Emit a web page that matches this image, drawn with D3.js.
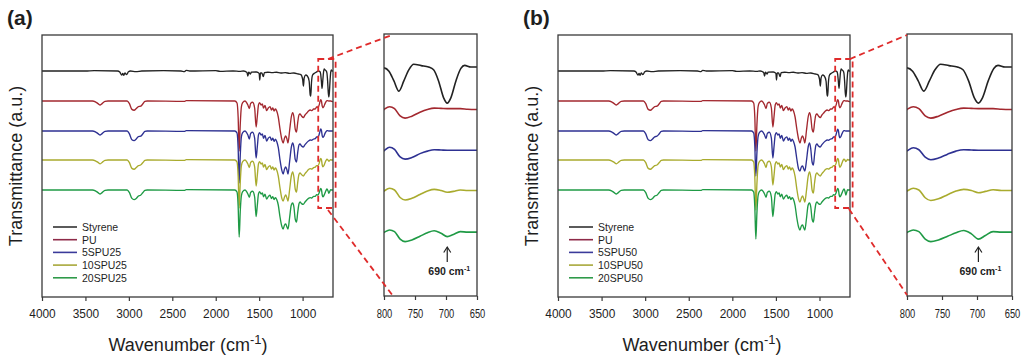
<!DOCTYPE html>
<html>
<head>
<meta charset="utf-8">
<script src="https://cdn.jsdelivr.net/npm/d3@7"></script>
<style>
  body { margin: 0; background: #fff; }
  svg { display: block; }
  text { font-family: "Liberation Sans", Arial, sans-serif; fill: #1e1e1e; }
</style>
</head>
<body>
<svg id="chart" width="1024" height="364"></svg>
<script>
"use strict";

// Styrene spectrum (relative transmittance, a.u.)
const styreneWn = [4000,3500,3400,3130,3105,3082,3070,3060,3045,3026,3005,2980,2920,2850,2600,2400,2360,2340,2300,2000,
  1950,1800,1720,1680,1640,1630,1620,1600,1590,1530,1500,1493,1485,1470,1452,1440,1400,1350,1300,1250,
  1200,1150,1100,1050,1020,1000,990,982,965,945,925,912,906,898,885,860,840,820,800,792,
  784,776,768,760,752,740,728,720,712,704,698,692,684,676,670,660,650];
const styreneT = [0,0,0.2,0,-0.5,-2,-1.2,-2.2,-1,-1.8,-0.4,0,-0.3,0,0.2,0,-0.3,0.3,0,0.2,
  -0.2,0,-0.2,0,-0.8,-2.5,-0.6,-1.5,-0.6,-0.5,-1.2,-4.5,-1,-1,-2.8,-0.8,-0.6,-0.8,-0.6,-1,
  -0.8,-1.2,-1,-1.5,-1.8,-4,-7.5,-3.5,-2,-2.5,-5,-12,-12.5,-6,-2,-1,-0.5,0,-0.3,-1.5,
  -5,-8.7,-5,-1,1,0.5,0,-1,-5,-11,-13,-11,-5,-0.5,0.6,0,0];

// PU based samples share one wavenumber grid
const polyWn = [4000,3420,3385,3355,3330,3305,3275,3240,
  3020,2995,2965,2940,2915,2890,2865,2840,2815,2790,
  2360,2340,
  1780,1755,1742,1730,1718,1705,1690,1663,
  1645,1630,1613,1598,1575,1552,1535,1522,1508,1495,
  1478,1463,1450,1433,1414,1395,1375,1358,1343,1328,1313,1298,
  1280,1260,1240,1224,1208,1194,1180,1168,1150,1130,
  1114,1100,1085,1070,1057,1042,1030,1012,992,972,
  952,932,912,893,873,855,838,822,808,800,
  791,783,774,766,755,742,730,719,708,698,688,677,665,650];

const puT = [0,0,-0.4,-1.3,-2,-1.2,-0.2,0,
  0,-1.2,-4.2,-4.6,-3.8,-2.8,-2.6,-1.5,-0.2,0,
  -0.2,0.2,
  0,-1,-8,-25,-12,-3,-0.8,0,
  -0.8,-2,-3.8,-1.2,-0.6,-3.5,-13,-8,-2,-0.8,
  -2,-1.5,-3.5,-2.2,-4.8,-3.5,-2.8,-4.5,-3.5,-5,-4,-5,
  -8,-14,-19,-21,-18.5,-17.5,-19,-21,-15,-8,
  -5.8,-8,-14,-15.5,-11,-7,-6.5,-7.5,-8.3,-7,
  -6,-5,-4.5,-4.8,-4,-4,-3,-3.2,-1.8,-0.3,
  0.7,0,-2.6,-3.4,-2.7,-1.3,-0.3,0.2,0.1,0,0,0,-0.2,-0.3];

const spu5_25T = [0,0,-0.4,-1.3,-2,-1.2,-0.2,0,
  0,-1.3,-4.4,-4.8,-4,-2.8,-2.6,-1.5,-0.2,0,
  -0.2,0.2,
  0,-1,-8.5,-26,-12.5,-3,-0.8,0,
  -0.8,-2,-4,-1.2,-0.6,-3.6,-13.5,-8.2,-2,-0.8,
  -2,-1.5,-3.6,-2.2,-5,-3.6,-2.9,-4.6,-3.6,-5.2,-4.1,-5.2,
  -8.2,-14.5,-19.5,-21.5,-19,-18,-19.5,-21.5,-15.5,-8.2,
  -6,-8.2,-14.2,-15.5,-11,-7,-6.5,-7.5,-8,-6.8,
  -5.8,-5,-4.5,-4.6,-4,-3.8,-3,-3,-1.5,-0.2,
  1.1,0.3,-2.4,-3.2,-2.6,-1.2,-0.3,0.2,0.1,0,0,0,0,0];

const spu10_25T = [0,0,-0.4,-1.2,-1.9,-1.1,-0.2,0,
  0,-1.2,-4.2,-4.6,-3.8,-2.8,-2.5,-1.4,-0.2,0,
  -0.2,0.2,
  0,-1,-8,-24,-11.5,-3,-0.8,0,
  -0.8,-2,-3.8,-1.2,-0.6,-3.4,-13,-8,-2,-0.8,
  -2,-1.5,-3.5,-2.2,-4.8,-3.5,-2.8,-4.5,-3.5,-5,-4,-5,
  -8,-14,-19,-20.5,-18.5,-17.5,-19,-20.5,-15,-8,
  -6,-8.5,-14.5,-16,-11.5,-7.2,-6.5,-7.3,-8,-6.8,
  -5.8,-4.8,-4.3,-4.5,-3.8,-3.6,-2.8,-2.8,-1.5,-0.2,
  0.8,0.2,-2.5,-3.4,-2.8,-1.4,-0.2,0.4,0,-0.6,-0.3,0.2,0,0];

const spu20_25T = [0,0,-0.4,-1.3,-2,-1.2,-0.2,0,
  0,-1.2,-4.2,-4.8,-4.2,-3,-2.6,-1.4,-0.2,0,
  -0.2,0.2,
  0,-1,-8,-23.5,-11,-3,-0.8,0,
  -0.8,-2,-3.6,-1.2,-0.6,-3.5,-13.3,-8,-2,-0.8,
  -2,-1.5,-3.4,-2.1,-4.5,-3.3,-2.6,-4.3,-3.3,-4.8,-3.8,-4.8,
  -7.5,-13.5,-18,-19.5,-17.5,-17,-18.5,-19.5,-14,-7.5,
  -6.5,-8.5,-14.5,-16,-11.5,-7,-6,-6.8,-7.2,-6,
  -5,-4.2,-3.8,-4,-3.2,-3.2,-2.3,-2.5,-1.2,-0.1,
  0.8,0.2,-2.5,-3.4,-2.8,-1.5,-0.2,0.5,-0.4,-1.6,-0.8,0.2,0,0];

const spu5_50T = [0,0,-0.4,-1.3,-2,-1.2,-0.2,0,
  0,-1.3,-4.4,-4.8,-4,-2.9,-2.6,-1.5,-0.2,0,
  -0.2,0.2,
  0,-1,-7.5,-22.5,-11,-3,-0.8,0,
  -0.8,-2,-3.8,-1.2,-0.6,-3.6,-13.5,-8,-2,-0.8,
  -2,-1.5,-3.6,-2.2,-5,-3.6,-2.9,-4.6,-3.6,-5.2,-4.1,-5.2,
  -8,-14,-19,-20,-18,-17.5,-19,-20,-15,-8,
  -6,-9,-15.5,-17,-12,-7.2,-6.5,-7.5,-8,-6.8,
  -5.8,-5,-4.5,-4.6,-4,-3.8,-3,-3,-1.5,-0.2,
  0.9,0.2,-2.5,-3.4,-2.8,-1.4,-0.3,0.2,0.1,0,0,0,0,0];

const spu10_50T = [0,0,-0.4,-1.2,-1.9,-1.1,-0.2,0,
  0,-1.2,-4.2,-4.6,-3.8,-2.8,-2.5,-1.4,-0.2,0,
  -0.2,0.2,
  0,-1,-8.5,-25,-12,-3,-0.8,0,
  -0.8,-2,-3.8,-1.2,-0.6,-3.4,-12.5,-7.8,-2,-0.8,
  -2,-1.5,-3.5,-2.2,-4.8,-3.5,-2.8,-4.5,-3.5,-5,-4,-5,
  -8.2,-14.5,-19.5,-21,-19,-18,-19.5,-21,-15.5,-8.2,
  -6,-8.5,-15,-16.5,-11.5,-7.2,-6.5,-7.3,-8,-6.8,
  -5.8,-4.8,-4.3,-4.5,-3.8,-3.6,-2.8,-2.8,-1.5,-0.2,
  0.8,0.2,-2.6,-3.6,-3,-1.5,-0.2,0.4,0,-0.8,-0.3,0.3,0,0];

const spu20_50T = [0,0,-0.4,-1.3,-2,-1.2,-0.2,0,
  0,-1.2,-4.2,-4.8,-4.2,-3,-2.6,-1.4,-0.2,0,
  -0.2,0.2,
  0,-1,-8.5,-24.5,-11.5,-3,-0.8,0,
  -0.8,-2,-3.6,-1.2,-0.6,-3.5,-13.3,-8,-2,-0.8,
  -2,-1.5,-3.4,-2.1,-4.5,-3.3,-2.6,-4.3,-3.3,-4.8,-3.8,-4.8,
  -7.8,-14,-18.5,-20,-18,-17.5,-19,-20,-14.5,-7.5,
  -6.5,-8.5,-14.5,-16,-11.5,-7,-6,-6.8,-7.2,-6,
  -5,-4.2,-3.8,-4,-3.2,-3.2,-2.3,-2.5,-1.2,-0.1,
  0.8,0.2,-2.5,-3.4,-2.8,-1.5,-0.2,0.6,-0.6,-2.5,-1.2,0.2,0,0];

// vertical stacking offset of each trace (a.u.)
const offsets = [113, 98, 83, 68.5, 53.5];
const mainTicks = [4000, 3500, 3000, 2500, 2000, 1500, 1000];
const insetTicks = [800, 750, 700, 650];
const colors = ['#222222', '#a3282f', '#2e3192', '#a9ab2e', '#1f9a45'];
const legendColors = ['#333333', '#8e2a48', '#3a3a9a', '#a8a83a', '#2f9a4a'];

const panels = [
  {
    label: '(a)', labelX: 7,
    names: ['Styrene', 'PU', '5SPU25', '10SPU25', '20SPU25'],
    values: [styreneT, puT, spu5_25T, spu10_25T, spu20_25T],
    main: {l: 42, r: 333}, inset: {l: 384, r: 477},
    linkTop: [[328, 59], [392, 35]], linkBottom: [[328, 210], [393, 296]],
    yTitleX: 22, xTitleX: 188
  },
  {
    label: '(b)', labelX: 523,
    names: ['Styrene', 'PU', '5SPU50', '10SPU50', '20SPU50'],
    values: [styreneT, puT, spu5_50T, spu10_50T, spu20_50T],
    main: {l: 558, r: 850}, inset: {l: 907, r: 1012},
    linkTop: [[850, 59], [907, 35]], linkBottom: [[849, 209], [907, 295]],
    yTitleX: 538, xTitleX: 702
  }
];

const svg = d3.select('#chart');
const defs = svg.append('defs');
const TOP = 35, BOTTOM = 297, ITOP = 34, IBOTTOM = 296;

function seriesPoints(k, vals) {
  const wn = k === 0 ? styreneWn : polyWn;
  return wn.map((w, i) => [w, vals[i] + offsets[k]]);
}

panels.forEach((p, pi) => {
  const g = svg.append('g');
  const x = d3.scaleLinear().domain([4000, 650]).range([p.main.l, p.main.r]);
  const y = d3.scaleLinear().domain([0, 131]).range([BOTTOM, TOP]);
  const xi = d3.scaleLinear().domain([800, 650]).range([p.inset.l, p.inset.r]);
  const yi = d3.scaleLinear().domain([30.5, 124.9]).range([IBOTTOM, ITOP]);

  defs.append('clipPath').attr('id', 'clipM' + pi).append('rect')
    .attr('x', p.main.l).attr('y', TOP).attr('width', p.main.r - p.main.l).attr('height', BOTTOM - TOP);
  defs.append('clipPath').attr('id', 'clipI' + pi).append('rect')
    .attr('x', p.inset.l).attr('y', ITOP).attr('width', p.inset.r - p.inset.l).attr('height', IBOTTOM - ITOP);

  const line = d3.line().x(d => x(d[0])).y(d => y(d[1])).curve(d3.curveMonotoneX);
  const lineI = d3.line().x(d => xi(d[0])).y(d => yi(d[1])).curve(d3.curveMonotoneX);

  // main spectra
  g.append('g').attr('clip-path', `url(#clipM${pi})`)
    .selectAll('path').data(p.values).join('path')
    .attr('d', (v, k) => line(seriesPoints(k, v)))
    .attr('fill', 'none').attr('stroke', (v, k) => colors[k]).attr('stroke-width', 1.35);

  // inset spectra
  g.append('g').attr('clip-path', `url(#clipI${pi})`)
    .selectAll('path').data(p.values).join('path')
    .attr('d', (v, k) => lineI(seriesPoints(k, v)))
    .attr('fill', 'none').attr('stroke', (v, k) => colors[k]).attr('stroke-width', 1.6);

  // frames
  g.append('rect').attr('x', p.main.l).attr('y', TOP)
    .attr('width', p.main.r - p.main.l).attr('height', BOTTOM - TOP)
    .attr('fill', 'none').attr('stroke', '#3a3a3a').attr('stroke-width', 1.3);
  g.append('rect').attr('x', p.inset.l).attr('y', ITOP)
    .attr('width', p.inset.r - p.inset.l).attr('height', IBOTTOM - ITOP)
    .attr('fill', 'none').attr('stroke', '#3a3a3a').attr('stroke-width', 1.3);

  // x axes
  const ax = g.append('g').attr('transform', `translate(0,${BOTTOM})`)
    .call(d3.axisBottom(x).tickValues(mainTicks).tickSize(4).tickPadding(7.5).tickFormat(d3.format('d')));
  ax.select('.domain').remove();
  ax.selectAll('.tick line').attr('stroke', '#3a3a3a').attr('stroke-width', 1.2);
  ax.selectAll('.tick text').attr('font-size', 13.5).attr('fill', '#1e1e1e')
    .attr('font-family', '"Liberation Sans", Arial, sans-serif')
    .attr('transform', 'scale(0.88,1)');

  const axi = g.append('g').attr('transform', `translate(0,${IBOTTOM})`)
    .call(d3.axisBottom(xi).tickValues(insetTicks).tickSize(4).tickPadding(8.8).tickFormat(d3.format('d')));
  axi.select('.domain').remove();
  axi.selectAll('.tick line').attr('stroke', '#3a3a3a').attr('stroke-width', 1.2);
  axi.selectAll('.tick text').attr('font-size', 13).attr('fill', '#1e1e1e')
    .attr('font-family', '"Liberation Sans", Arial, sans-serif')
    .attr('transform', 'scale(0.72,1)');

  // zoom box and connector lines
  const red = {stroke: '#df2b2b', width: 1.8, dash: '6,4'};
  g.append('rect')
    .attr('x', x(820)).attr('y', y(119))
    .attr('width', x(620) - x(820)).attr('height', y(44.5) - y(119))
    .attr('fill', 'none').attr('stroke', red.stroke).attr('stroke-width', red.width)
    .attr('stroke-dasharray', red.dash);
  [p.linkTop, p.linkBottom].forEach(l => {
    g.append('line').attr('x1', l[0][0]).attr('y1', l[0][1]).attr('x2', l[1][0]).attr('y2', l[1][1])
      .attr('stroke', red.stroke).attr('stroke-width', red.width).attr('stroke-dasharray', red.dash);
  });

  // legend
  const lg = g.append('g');
  p.names.forEach((n, k) => {
    const ly = 227 + k * 12.7;
    lg.append('line').attr('x1', p.main.l + 11).attr('x2', p.main.l + 35)
      .attr('y1', ly).attr('y2', ly).attr('stroke', legendColors[k]).attr('stroke-width', 1.6);
    lg.append('text').attr('x', p.main.l + 40).attr('y', ly + 3.8)
      .attr('font-size', 10.5).text(n);
  });

  // 690 cm-1 arrow
  const axp = xi(698);
  g.append('line').attr('x1', axp).attr('x2', axp).attr('y1', 262).attr('y2', 247.5)
    .attr('stroke', '#222').attr('stroke-width', 1.2);
  g.append('path').attr('d', `M${axp - 3.5},252.5 L${axp},247 L${axp + 3.5},252.5`)
    .attr('fill', 'none').attr('stroke', '#222').attr('stroke-width', 1.2);
  const ann = g.append('text').attr('x', axp + 2).attr('y', 275)
    .attr('text-anchor', 'middle').attr('font-size', 10.5).attr('font-weight', 'bold');
  ann.append('tspan').text('690 cm');
  ann.append('tspan').attr('font-size', 7).attr('dy', -4).text('-1');

  // titles
  g.append('text').attr('x', p.labelX).attr('y', 25)
    .attr('font-size', 21).attr('font-weight', 'bold').text(p.label);
  g.append('text').attr('transform', `translate(${p.yTitleX},166) rotate(-90)`)
    .attr('text-anchor', 'middle').attr('font-size', 18).text('Transmittance (a.u.)');
  const xt = g.append('text').attr('x', p.xTitleX).attr('y', 351)
    .attr('text-anchor', 'middle').attr('font-size', 18);
  xt.append('tspan').text('Wavenumber (cm');
  xt.append('tspan').attr('font-size', 13).attr('dy', -7).text('-1');
  xt.append('tspan').attr('dy', 7).text(')');
});
</script>
</body>
</html>
